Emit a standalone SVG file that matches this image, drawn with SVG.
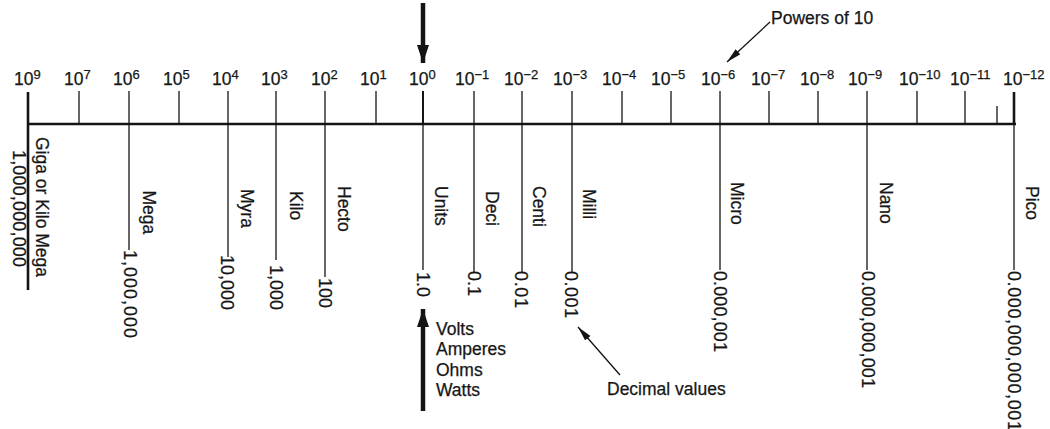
<svg xmlns="http://www.w3.org/2000/svg" width="1050" height="429" viewBox="0 0 1050 429">
<style>
text{fill:#161616;stroke:#161616;stroke-width:0.25;font-family:"Liberation Sans",Arial,sans-serif}
.pw{font-size:17.5px}
.sup{font-size:13px}
.lb{font-size:17.5px}
.val{font-size:18px}
.note{font-size:17.5px}
line{stroke:#141414;stroke-width:1.3;fill:none}
.thick{stroke-width:2.6}
.axis{stroke-width:2.6}
.fat{stroke-width:4.5}
</style>
<defs>
<marker id="head" markerUnits="userSpaceOnUse" markerWidth="16" markerHeight="8" refX="15" refY="3.5" orient="auto"><path d="M0,0 L15,3.5 L0,7 z" fill="#141414"/></marker>
<marker id="bighead" markerUnits="userSpaceOnUse" markerWidth="19" markerHeight="13" refX="18" refY="6" orient="auto"><path d="M0,0 L18,6 L0,12 z" fill="#141414"/></marker>
</defs>

<g id="axis">
<line class="axis" x1="27" y1="124" x2="1016" y2="124"/>
</g>

<g id="p9"><line class="thick" x1="28" y1="92" x2="28" y2="290"/><text class="pw" x="14" y="85">10<tspan class="sup" dy="-6">9</tspan></text>
<text class="lb" transform="translate(35.5,137) rotate(90)">Giga or Kilo Mega</text>
<text class="val" transform="translate(12.5,150) rotate(90)" textLength="117" lengthAdjust="spacing">1,000,000,000</text></g>
<g id="p7"><line x1="79" y1="91" x2="79" y2="124"/><text class="pw" x="64" y="85">10<tspan class="sup" dy="-6">7</tspan></text></g>
<g id="p6"><line x1="129" y1="91" x2="129" y2="250"/><text class="pw" x="113" y="85">10<tspan class="sup" dy="-6">6</tspan></text>
<text class="lb" transform="translate(142.5,190.5) rotate(90)">Mega</text>
<text class="val" transform="translate(124,250) rotate(90)" textLength="88" lengthAdjust="spacing">1,000,000</text></g>
<g id="p5"><line x1="179" y1="91" x2="179" y2="124"/><text class="pw" x="163" y="85">10<tspan class="sup" dy="-6">5</tspan></text></g>
<g id="p4"><line x1="228" y1="91" x2="228" y2="257"/><text class="pw" x="212" y="85">10<tspan class="sup" dy="-6">4</tspan></text>
<text class="lb" transform="translate(240.5,189) rotate(90)">Myra</text>
<text class="val" transform="translate(221,255) rotate(90)">10,000</text></g>
<g id="p3"><line x1="276" y1="91" x2="276" y2="260"/><text class="pw" x="261" y="85">10<tspan class="sup" dy="-6">3</tspan></text>
<text class="lb" transform="translate(289.5,191) rotate(90)">Kilo</text>
<text class="val" transform="translate(270,265) rotate(90)">1,000</text></g>
<g id="p2"><line x1="325" y1="91" x2="325" y2="277"/><text class="pw" x="311" y="85">10<tspan class="sup" dy="-6">2</tspan></text>
<text class="lb" transform="translate(337.5,186) rotate(90)">Hecto</text>
<text class="val" transform="translate(319,278) rotate(90)">100</text></g>
<g id="p1"><line x1="376" y1="91" x2="376" y2="124"/><text class="pw" x="360" y="85">10<tspan class="sup" dy="-6">1</tspan></text></g>
<g id="p0"><line x1="423" y1="91" x2="423" y2="124" style="stroke-width:2"/><line x1="423" y1="124" x2="423" y2="270"/><text class="pw" x="409" y="85">10<tspan class="sup" dy="-6">0</tspan></text>
<text class="lb" transform="translate(434.5,186) rotate(90)">Units</text>
<text class="val" transform="translate(417,272) rotate(90)">1.0</text></g>
<g id="m1"><line x1="474" y1="91" x2="474" y2="272"/><text class="pw" x="455" y="85">10<tspan class="sup" dy="-6">−1</tspan></text>
<text class="lb" transform="translate(485.5,191) rotate(90)">Deci</text>
<text class="val" transform="translate(467.5,271) rotate(90)">0.1</text></g>
<g id="m2"><line x1="522" y1="91" x2="522" y2="272"/><text class="pw" x="504" y="85">10<tspan class="sup" dy="-6">−2</tspan></text>
<text class="lb" transform="translate(532.5,186) rotate(90)">Centi</text>
<text class="val" transform="translate(515,271) rotate(90)" textLength="37" lengthAdjust="spacing">0.01</text></g>
<g id="m3"><line x1="572" y1="91" x2="572" y2="272"/><text class="pw" x="553" y="85">10<tspan class="sup" dy="-6">−3</tspan></text>
<text class="lb" transform="translate(582.5,189) rotate(90)">Milli</text>
<text class="val" transform="translate(565,271) rotate(90)" textLength="47" lengthAdjust="spacing">0.001</text></g>
<g id="m4"><line x1="622" y1="91" x2="622" y2="124"/><text class="pw" x="602" y="85">10<tspan class="sup" dy="-6">−4</tspan></text></g>
<g id="m5"><line x1="671" y1="91" x2="671" y2="124"/><text class="pw" x="651" y="85">10<tspan class="sup" dy="-6">−5</tspan></text></g>
<g id="m6"><line x1="720" y1="91" x2="720" y2="270"/><text class="pw" x="701" y="85">10<tspan class="sup" dy="-6">−6</tspan></text>
<text class="lb" transform="translate(730.5,182) rotate(90)">Micro</text>
<text class="val" transform="translate(713.5,271) rotate(90)" textLength="81" lengthAdjust="spacing">0.000,001</text></g>
<g id="m7"><line x1="769" y1="91" x2="769" y2="124"/><text class="pw" x="751" y="85">10<tspan class="sup" dy="-6">−7</tspan></text></g>
<g id="m8"><line x1="818" y1="91" x2="818" y2="124"/><text class="pw" x="800" y="85">10<tspan class="sup" dy="-6">−8</tspan></text></g>
<g id="m9"><line x1="867" y1="91" x2="867" y2="270"/><text class="pw" x="848" y="85">10<tspan class="sup" dy="-6">−9</tspan></text>
<text class="lb" transform="translate(879.5,182) rotate(90)">Nano</text>
<text class="val" transform="translate(861.5,271) rotate(90)" textLength="117" lengthAdjust="spacing">0.000,000,001</text></g>
<g id="m10"><line x1="917" y1="91" x2="917" y2="124"/><text class="pw" x="899" y="85">10<tspan class="sup" dy="-6">−10</tspan></text></g>
<g id="m11"><line x1="965" y1="91" x2="965" y2="124"/><text class="pw" x="950" y="85">10<tspan class="sup" dy="-6">−11</tspan></text></g>
<g id="m11b"><line x1="997" y1="106" x2="997" y2="124"/></g>
<g id="m12"><line class="thick" x1="1014" y1="92" x2="1014" y2="124"/><line x1="1014" y1="124" x2="1014" y2="270"/><text class="pw" x="1003" y="85">10<tspan class="sup" dy="-6">−12</tspan></text>
<text class="lb" transform="translate(1025.5,186) rotate(90)">Pico</text>
<text class="val" transform="translate(1008,271) rotate(90)" textLength="160" lengthAdjust="spacing">0.000,000,000,001</text></g>

<g id="powers"><text class="note" x="771" y="24">Powers of 10</text></g>
<g id="units-note"><text class="note" x="436" y="334.5">Volts</text><text class="note" x="436" y="355">Amperes</text><text class="note" x="436" y="375.5">Ohms</text><text class="note" x="436" y="396">Watts</text></g>
<g id="decimal"><text class="note" x="607" y="395">Decimal values</text></g>

<g id="connectors">
<line class="fat" x1="423" y1="3" x2="423" y2="63" marker-end="url(#bighead)"/>
<line class="fat" x1="423" y1="411" x2="423" y2="309" marker-end="url(#bighead)"/>
<line x1="770" y1="22" x2="727" y2="62" marker-end="url(#head)"/>
<line x1="620" y1="375" x2="578" y2="327" marker-end="url(#head)"/>
</g>
</svg>
